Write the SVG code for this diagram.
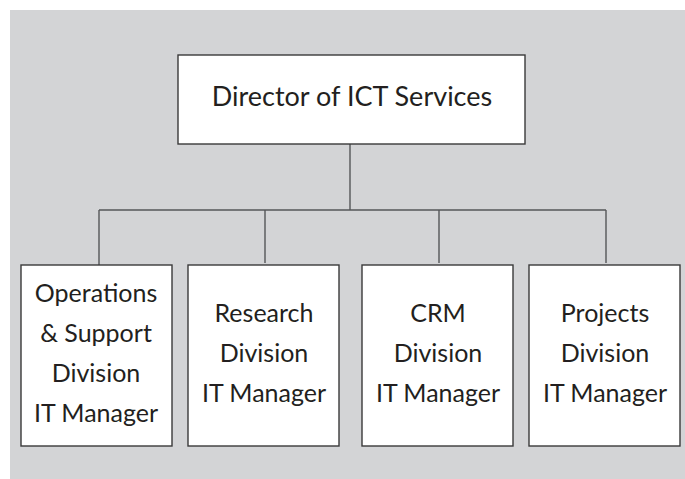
<svg xmlns="http://www.w3.org/2000/svg" width="685" height="479" viewBox="0 0 685 479">
<style>
.box{fill:#ffffff;stroke:#3a3a3a;stroke-width:1.4}
.con{fill:none;stroke:#555759;stroke-width:1.4}
text{font-family:Lato,"Open Sans","Liberation Sans",sans-serif;fill:#231f20;text-anchor:middle}
.t1{font-size:27px}
.t2{font-size:25px}
</style>
<rect x="0" y="0" width="685" height="479" fill="#ffffff"/>
<rect x="10" y="10" width="675" height="469" fill="#d3d4d6"/>
<g id="connectors">
<path class="con" d="M350 144 V210 M99 210 H606 M99 210 V265 M265 210 V263 M439 210 V263 M606 210 V263"/>
</g>
<g id="director">
<rect class="box" x="178" y="55" width="347" height="89"/>
<text class="t1" x="352" y="106">Director of ICT Services</text>
</g>
<g id="operations">
<rect class="box" x="21" y="265" width="151" height="181"/>
<text class="t2" x="96" y="302">Operations</text>
<text class="t2" x="96" y="342">&amp; Support</text>
<text class="t2" x="96" y="382">Division</text>
<text class="t2" x="96" y="422">IT Manager</text>
</g>
<g id="research">
<rect class="box" x="188" y="265" width="151" height="181"/>
<text class="t2" x="264" y="322">Research</text>
<text class="t2" x="264" y="362">Division</text>
<text class="t2" x="264" y="402">IT Manager</text>
</g>
<g id="crm">
<rect class="box" x="362" y="265" width="151" height="181"/>
<text class="t2" x="438" y="322">CRM</text>
<text class="t2" x="438" y="362">Division</text>
<text class="t2" x="438" y="402">IT Manager</text>
</g>
<g id="projects">
<rect class="box" x="529" y="265" width="151" height="181"/>
<text class="t2" x="605" y="322">Projects</text>
<text class="t2" x="605" y="362">Division</text>
<text class="t2" x="605" y="402">IT Manager</text>
</g>
</svg>
